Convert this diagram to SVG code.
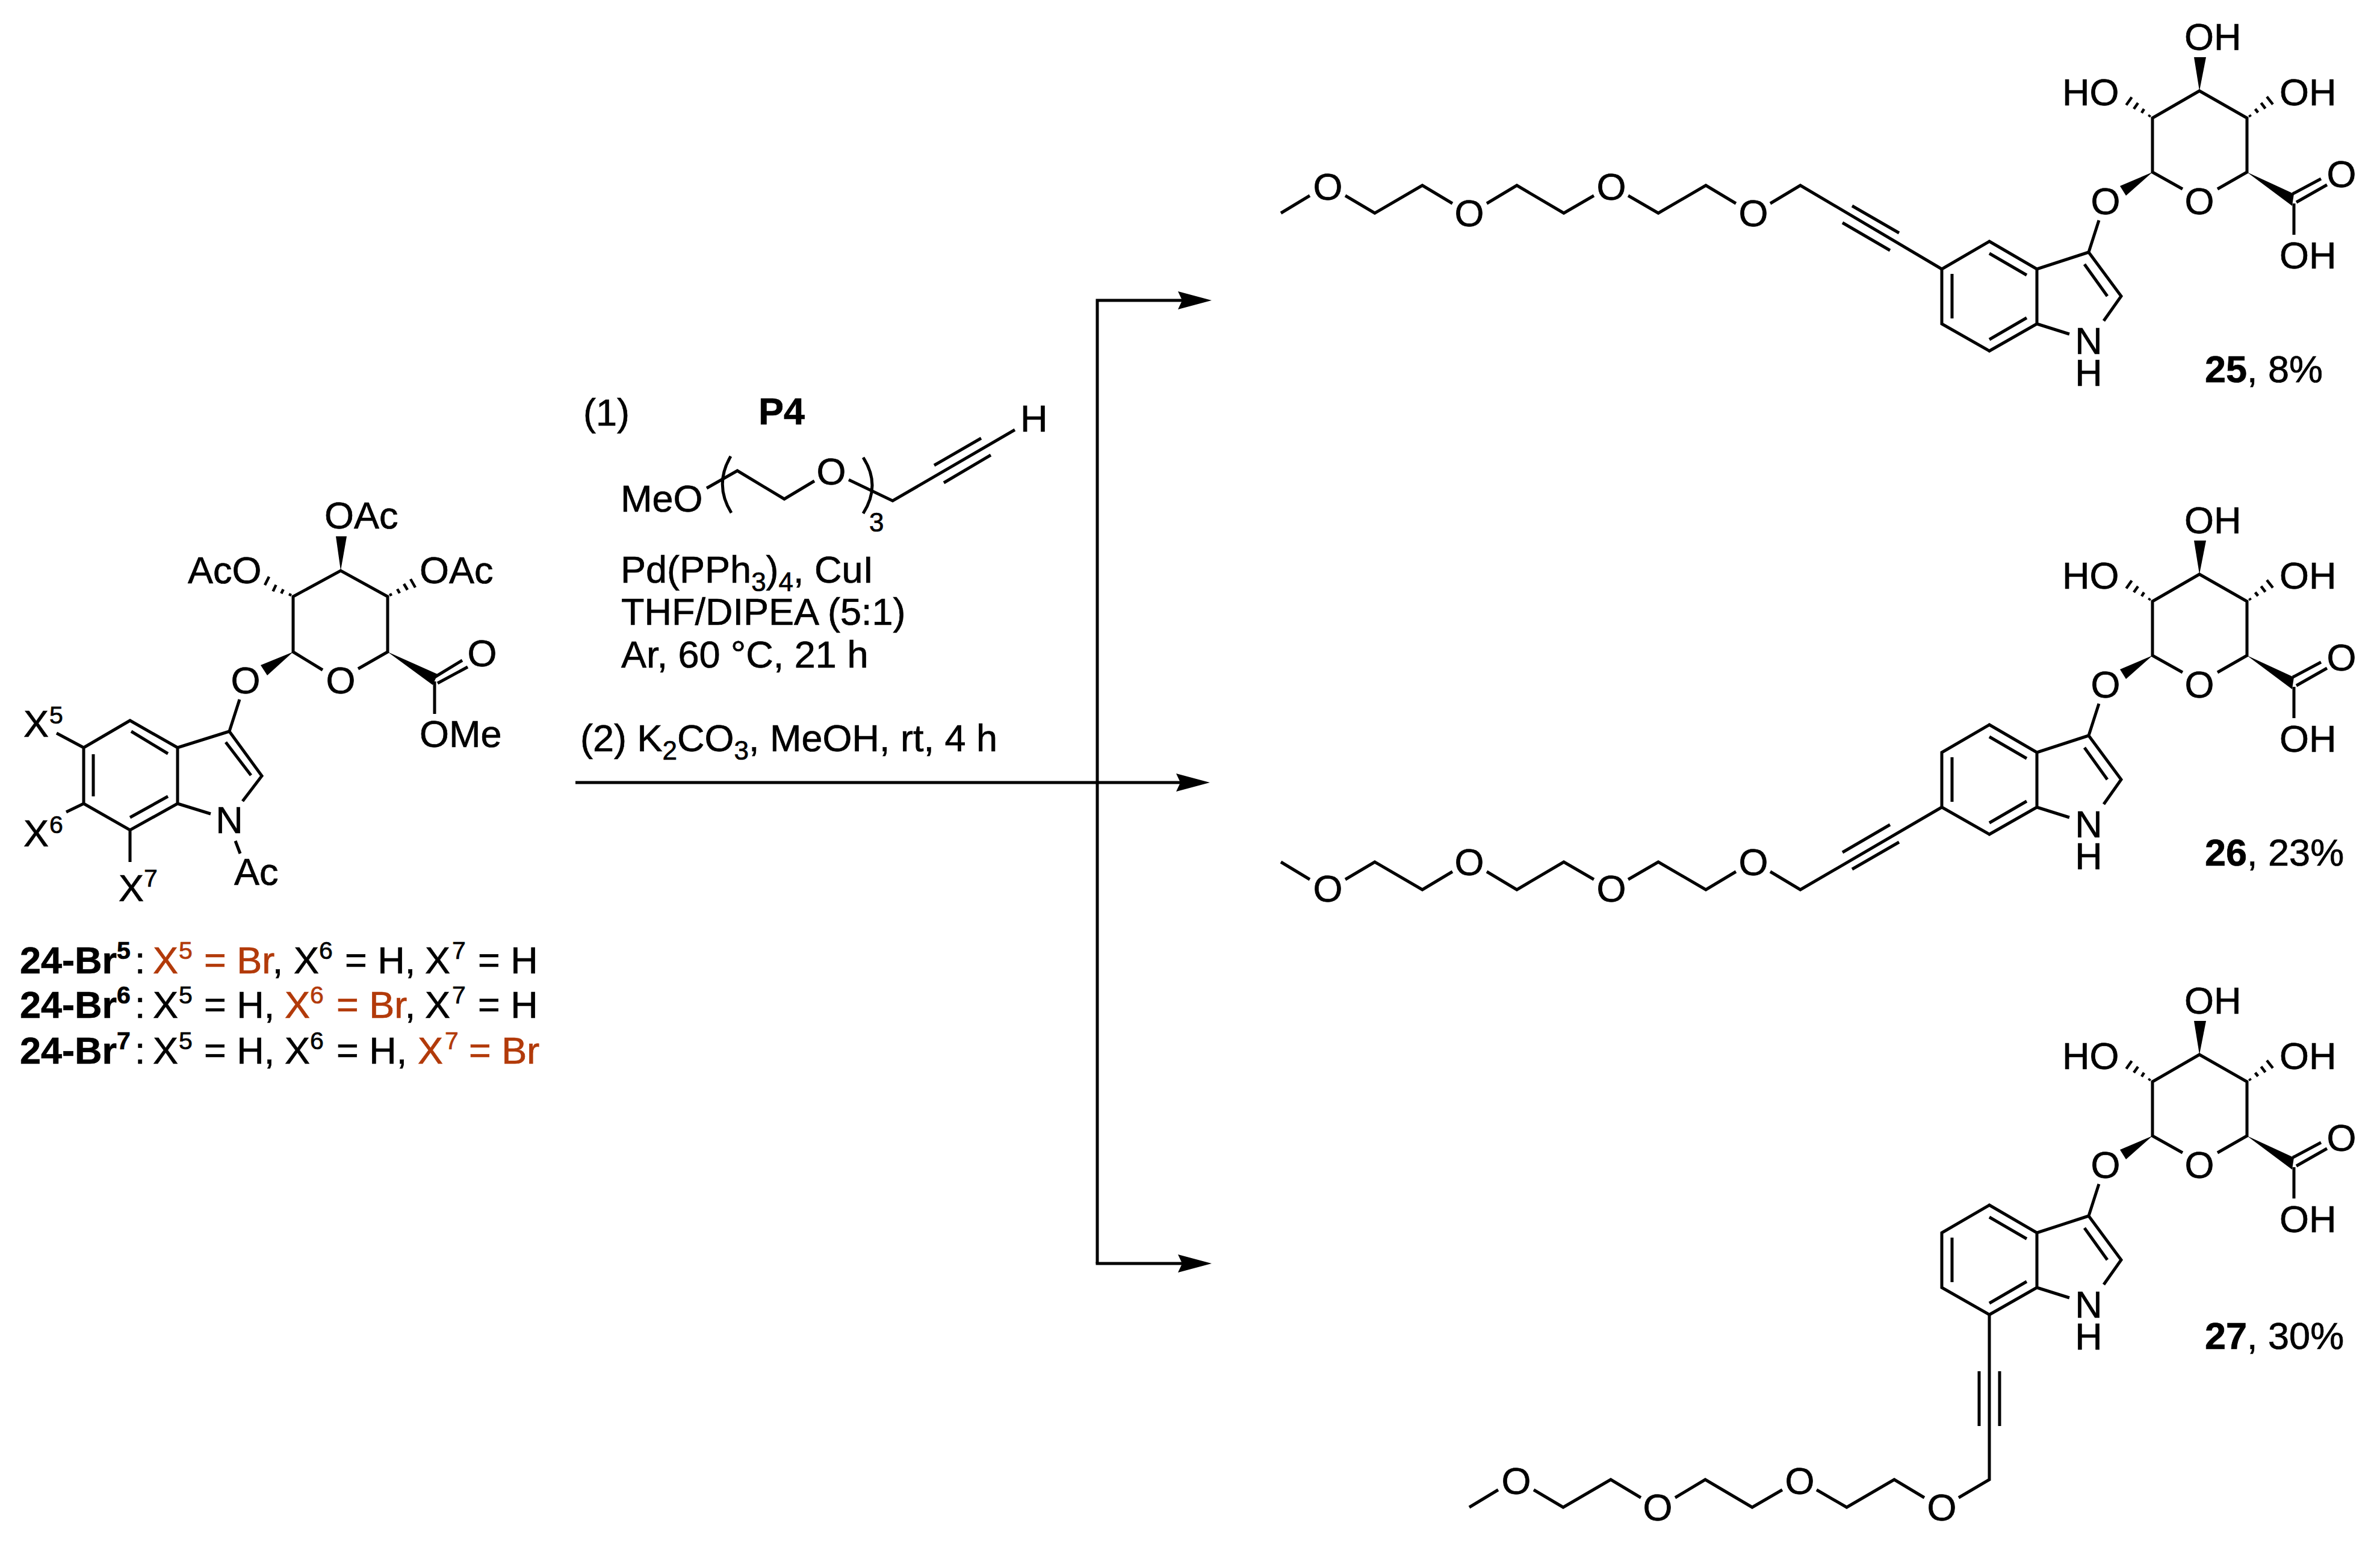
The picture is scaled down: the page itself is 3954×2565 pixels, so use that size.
<svg xmlns="http://www.w3.org/2000/svg" width="3954" height="2565" viewBox="0 0 3954 2565">
<style>
text{font-family:"Liberation Sans",Arial,sans-serif;font-size:63px;fill:#000;stroke:#000;stroke-width:.7}
.sm{font-size:41px}
.sub{font-size:44px}
.bd{font-weight:bold}
.red{fill:#b23a0a;stroke:#b23a0a}
.mid{text-anchor:middle}
.b{fill:none;stroke:#000;stroke-width:5;stroke-linejoin:miter;stroke-linecap:butt}
.w{fill:#000;stroke:none}
.h{fill:none;stroke:#000;stroke-width:4.5}
</style>
<defs>
<marker id="arrow" markerUnits="userSpaceOnUse" markerWidth="58" markerHeight="32" viewBox="0 0 58 32" refX="7" refY="16" orient="auto"><path d="M0,1 L56,16 L0,31 L7,16 Z" fill="#000"/></marker>
</defs>
<rect width="3954" height="2565" fill="#fff"/>

<g id="compound-24">
<path class="b" d="M536,1113 L487,1083 L487,991 L566,948 L644,991 L644,1083 L595,1111"/>
<polygon class="w" points="566,948 558,891 576,891"/>
<path class="h" d="M481,990L483,986M467.3,986L470.7,979M453.5,982.4L458.6,971.6M440,972L447,958"/>
<path class="h" d="M648,986L650,990M660,978.5L664,985.5M671,970L677,980M682,962L690,976"/>
<polygon class="w" points="487,1083 433,1105 444,1122"/>
<polygon class="w" points="644,1083 727,1120 719,1138"/>
<path class="b" d="M722,1125L768,1097M727,1135L777,1108M722,1132L722,1186"/>
<path class="b" d="M398,1162L381,1215L435,1289L403,1331M381,1215L295,1242L216,1197L139,1242L139,1335L216,1379L295,1335L295,1242M295,1335L350,1352M391,1397L399,1418M94,1218L139,1242M139,1335L110,1349M216,1379L216,1432"/>
<path class="b" d="M218,1215L279,1252M155,1253L155,1323M216,1358L279,1323M375,1233L417,1288"/>
<text x="539" y="878">OAc</text>
<text x="312" y="969">AcO</text>
<text x="697" y="969">OAc</text>
<text x="697" y="1241">OMe</text>
<text class="mid" x="566" y="1152">O</text>
<text class="mid" x="408" y="1152">O</text>
<text class="mid" x="801" y="1107">O</text>
<text class="mid" x="381" y="1384">N</text>
<text x="389" y="1470">Ac</text>
<text x="39" y="1224">X<tspan class="sm" x="82" y="1202">5</tspan></text>
<text x="39" y="1406">X<tspan class="sm" x="82" y="1384">6</tspan></text>
<text x="197" y="1497">X<tspan class="sm" x="239" y="1473">7</tspan></text>
</g>

<g id="label-24">
<text y="1617"><tspan class="bd" x="33">24-Br</tspan><tspan class="bd sm" x="194" y="1593">5</tspan><tspan x="224" y="1617">:</tspan><tspan class="red" x="254">X</tspan><tspan class="red sm" x="297" y="1593">5</tspan><tspan class="red" x="339" y="1617">= Br</tspan><tspan>,</tspan><tspan x="488">X</tspan><tspan class="sm" x="530" y="1593">6</tspan><tspan x="573" y="1617">= H,</tspan><tspan x="706">X</tspan><tspan class="sm" x="751" y="1593">7</tspan><tspan x="794" y="1617">= H</tspan></text>
<text y="1691"><tspan class="bd" x="33">24-Br</tspan><tspan class="bd sm" x="194" y="1667">6</tspan><tspan x="224" y="1691">:</tspan><tspan x="254">X</tspan><tspan class="sm" x="297" y="1667">5</tspan><tspan x="339" y="1691">= H,</tspan><tspan class="red" x="473">X</tspan><tspan class="red sm" x="515" y="1667">6</tspan><tspan class="red" x="559" y="1691">= Br</tspan><tspan>,</tspan><tspan x="706">X</tspan><tspan class="sm" x="751" y="1667">7</tspan><tspan x="794" y="1691">= H</tspan></text>
<text y="1767"><tspan class="bd" x="33">24-Br</tspan><tspan class="bd sm" x="194" y="1743">7</tspan><tspan x="224" y="1767">:</tspan><tspan x="254">X</tspan><tspan class="sm" x="297" y="1743">5</tspan><tspan x="339" y="1767">= H,</tspan><tspan x="473">X</tspan><tspan class="sm" x="515" y="1743">6</tspan><tspan x="559" y="1767">= H,</tspan><tspan class="red" x="694">X</tspan><tspan class="red sm" x="739" y="1743">7</tspan><tspan class="red" x="779" y="1767">= Br</tspan></text>
</g>

<g id="reagents">
<text x="969" y="707">(1)</text>
<text class="bd" x="1260" y="705">P4</text>
<path class="b" d="M1174,811L1225,782L1303,829L1353,799M1410,797L1483,832L1686,714M1552,773L1630,728M1568,802L1646,756"/>
<path class="b" d="M1214,758Q1186,805 1215,852M1434,760Q1464,806 1434,853"/>
<text x="1031" y="850">MeO</text>
<text class="mid" x="1381" y="805">O</text>
<text class="sub" x="1444" y="883">3</text>
<text x="1695" y="717">H</text>
<text x="1031" y="968">Pd(PPh<tspan class="sub" dy="14">3</tspan><tspan dy="-14">)</tspan><tspan class="sub" dy="14">4</tspan><tspan dy="-14">, CuI</tspan></text>
<text x="1032" y="1038">THF/DIPEA (5:1)</text>
<text x="1032" y="1109">Ar, 60 °C, 21 h</text>
<text x="964" y="1248">(2) K<tspan class="sub" dy="14">2</tspan><tspan dy="-14">CO</tspan><tspan class="sub" dy="14">3</tspan><tspan dy="-14">, MeOH, rt, 4 h</tspan></text>
</g>

<g id="connectors">
<path class="b" d="M956,1300L1961,1300" marker-end="url(#arrow)"/>
<path class="b" d="M1823,2099L1823,499L1964,499" marker-end="url(#arrow)"/>
<path class="b" d="M1820.5,2099L1964,2099" marker-end="url(#arrow)"/>
</g>

<g id="compound-25">
<path class="b" d="M3626,314L3576,286L3576,196L3654,151L3733,196L3733,286L3684,314"/>
<polygon class="w" points="3654,151 3645,95 3665,95"/>
<path class="h" d="M3570,194L3572,191M3558,187.6L3562,181M3545,181L3552,171M3532.4,174.5L3541.6,161.5"/>
<path class="h" d="M3737,191L3739,194M3746.6,181L3751.4,187M3756.4,170.8L3763.6,180.4M3766,160.6L3776,173.4"/>
<polygon class="w" points="3576,286 3522,309 3532,325"/>
<polygon class="w" points="3733,286 3811,322 3808,342"/>
<path class="b" d="M3809,322L3856,297M3815,336L3866,307M3811,338L3811,390"/>
<path class="b" d="M3487,366L3470,419L3524,492L3495,533M3470,419L3384,447L3305,401L3226,447L3226,538L3305,583L3384,538L3384,447M3384,538L3438,555"/>
<path class="b" d="M3305,421L3367,457M3243,455L3243,529M3305,564L3367,528M3463,439L3501,492"/>
<path class="b" d="M3226,447L2991,308L2941,338M2884,338L2834,308L2755,354L2705,325M2648,325L2598,354L2520,308L2470,338M2413,338L2363,308L2284,354L2235,325M2176,325L2128,354M3077,342L3155,387M3061,370L3140,416"/>
<text x="3629" y="83">OH</text><text x="3426" y="175">HO</text><text x="3787" y="175">OH</text><text x="3787" y="446">OH</text>
<text class="mid" x="3654" y="356">O</text><text class="mid" x="3498" y="356">O</text><text class="mid" x="3890" y="311">O</text>
<text class="mid" x="3470" y="588">N<tspan x="3470" y="641">H</tspan></text>
<text class="mid" x="2913" y="376">O</text><text class="mid" x="2677" y="332">O</text><text class="mid" x="2441" y="376">O</text><text class="mid" x="2206" y="332">O</text>
<text x="3663" y="635"><tspan class="bd">25</tspan>, 8%</text>
</g>

<g id="compound-26">
<g transform="translate(0,803)">
<path class="b" d="M3626,314L3576,286L3576,196L3654,151L3733,196L3733,286L3684,314"/>
<polygon class="w" points="3654,151 3645,95 3665,95"/>
<path class="h" d="M3570,194L3572,191M3558,187.6L3562,181M3545,181L3552,171M3532.4,174.5L3541.6,161.5"/>
<path class="h" d="M3737,191L3739,194M3746.6,181L3751.4,187M3756.4,170.8L3763.6,180.4M3766,160.6L3776,173.4"/>
<polygon class="w" points="3576,286 3522,309 3532,325"/>
<polygon class="w" points="3733,286 3811,322 3808,342"/>
<path class="b" d="M3809,322L3856,297M3815,336L3866,307M3811,338L3811,390"/>
<path class="b" d="M3487,366L3470,419L3524,492L3495,533M3470,419L3384,447L3305,401L3226,447L3226,538L3305,583L3384,538L3384,447M3384,538L3438,555"/>
<path class="b" d="M3305,421L3367,457M3243,455L3243,529M3305,564L3367,528M3463,439L3501,492"/>
<text x="3629" y="83">OH</text><text x="3426" y="175">HO</text><text x="3787" y="175">OH</text><text x="3787" y="446">OH</text>
<text class="mid" x="3654" y="356">O</text><text class="mid" x="3498" y="356">O</text><text class="mid" x="3890" y="311">O</text>
<text class="mid" x="3470" y="588">N<tspan x="3470" y="641">H</tspan></text>
<text x="3663" y="635"><tspan class="bd">26</tspan>, 23%</text>
</g>
<path class="b" d="M3226,1341L2991,1478L2941,1448M2884,1448L2834,1478L2755,1432L2705,1461M2648,1461L2598,1432L2520,1478L2470,1448M2413,1448L2363,1478L2284,1432L2235,1461M2176,1461L2128,1432M3077,1444L3155,1399M3061,1416L3140,1370"/>
<text class="mid" x="2913" y="1454">O</text><text class="mid" x="2677" y="1498">O</text><text class="mid" x="2441" y="1454">O</text><text class="mid" x="2206" y="1498">O</text>
</g>

<g id="compound-27">
<g transform="translate(0,1601)">
<path class="b" d="M3626,314L3576,286L3576,196L3654,151L3733,196L3733,286L3684,314"/>
<polygon class="w" points="3654,151 3645,95 3665,95"/>
<path class="h" d="M3570,194L3572,191M3558,187.6L3562,181M3545,181L3552,171M3532.4,174.5L3541.6,161.5"/>
<path class="h" d="M3737,191L3739,194M3746.6,181L3751.4,187M3756.4,170.8L3763.6,180.4M3766,160.6L3776,173.4"/>
<polygon class="w" points="3576,286 3522,309 3532,325"/>
<polygon class="w" points="3733,286 3811,322 3808,342"/>
<path class="b" d="M3809,322L3856,297M3815,336L3866,307M3811,338L3811,390"/>
<path class="b" d="M3487,366L3470,419L3524,492L3495,533M3470,419L3384,447L3305,401L3226,447L3226,538L3305,583L3384,538L3384,447M3384,538L3438,555"/>
<path class="b" d="M3305,421L3367,457M3243,455L3243,529M3305,564L3367,528M3463,439L3501,492"/>
<text x="3629" y="83">OH</text><text x="3426" y="175">HO</text><text x="3787" y="175">OH</text><text x="3787" y="446">OH</text>
<text class="mid" x="3654" y="356">O</text><text class="mid" x="3498" y="356">O</text><text class="mid" x="3890" y="311">O</text>
<text class="mid" x="3470" y="588">N<tspan x="3470" y="641">H</tspan></text>
<text x="3663" y="640"><tspan class="bd">27</tspan>, 30%</text>
</g>
<path class="b" d="M3305,2184L3305,2458L3254,2488M3197,2488L3147,2458L3068,2504L3018,2475M2961,2475L2911,2504L2833,2458L2783,2488M2726,2488L2676,2458L2597,2504L2548,2475M2489,2475L2441,2504M3288,2278L3288,2369M3322,2278L3322,2369"/>
<text class="mid" x="3226" y="2526">O</text><text class="mid" x="2990" y="2482">O</text><text class="mid" x="2754" y="2526">O</text><text class="mid" x="2519" y="2482">O</text>
</g>
</svg>
